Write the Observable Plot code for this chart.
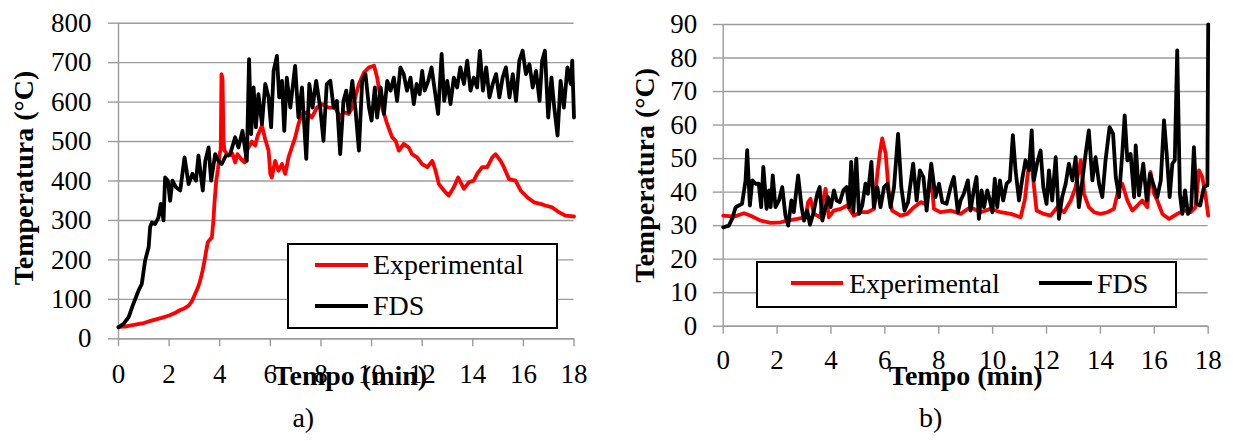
<!DOCTYPE html>
<html>
<head>
<meta charset="utf-8">
<script src="https://cdn.jsdelivr.net/npm/d3@7"></script>
<script src="https://cdn.jsdelivr.net/npm/@observablehq/plot@0.6"></script>
<style>
  html, body { margin: 0; padding: 0; background: #fff; }
  #root { position: relative; width: 1233px; height: 441px; overflow: hidden; font-family: "Liberation Serif", "Times New Roman", serif; }
  .panel { position: absolute; top: 0; }
  .legend { position: absolute; left: 0; top: 0; }
</style>
</head>
<body>
<div id="root"></div>
<script>
// ---------- data (time in min, temperature in °C) ----------
const xTicks = [0, 2, 4, 6, 8, 10, 12, 14, 16, 18];
const yTicksA = [0, 100, 200, 300, 400, 500, 600, 700, 800];
const yTicksB = [0, 10, 20, 30, 40, 50, 60, 70, 80, 90];
const seriesNames = ["Experimental", "FDS"];
const panelLabels = ["a)", "b)"];

const aExperimental = [[0,30],[0.26,31],[0.6,35],[1.0,40],[1.3,46],[1.7,53],[2.0,59],[2.25,66],[2.44,73],[2.6,77],[2.77,84],[2.9,95],[3.03,114],[3.15,132],[3.23,148],[3.32,172],[3.4,198],[3.47,225],[3.53,245],[3.62,252],[3.69,257],[3.75,300],[3.79,342],[3.86,400],[3.93,430],[4.0,470],[4.04,480],[4.07,671],[4.11,660],[4.15,500],[4.19,477],[4.35,464],[4.5,470],[4.61,447],[4.7,468],[4.85,455],[4.98,447],[5.1,480],[5.27,500],[5.4,490],[5.5,515],[5.67,540],[5.8,505],[5.93,477],[6.0,418],[6.06,409],[6.19,451],[6.32,426],[6.46,443],[6.59,418],[6.72,460],[6.85,485],[6.98,510],[7.11,544],[7.25,570],[7.44,574],[7.64,561],[7.84,586],[8.04,595],[8.3,586],[8.56,586],[8.76,561],[8.9,575],[9.1,570],[9.24,586],[9.5,646],[9.7,675],[9.9,688],[10.1,692],[10.22,662],[10.42,586],[10.62,544],[10.81,511],[10.95,502],[11.08,477],[11.27,494],[11.47,485],[11.6,468],[11.8,460],[12.0,443],[12.2,435],[12.4,451],[12.53,426],[12.66,392],[12.86,376],[13.05,363],[13.25,384],[13.42,409],[13.65,380],[13.85,397],[14.04,401],[14.17,418],[14.37,435],[14.57,435],[14.77,460],[14.9,468],[15.1,451],[15.23,435],[15.43,405],[15.69,401],[15.89,376],[16.15,359],[16.42,346],[16.68,342],[16.87,338],[17.14,333],[17.4,321],[17.67,312],[18.0,310]];

const aFDS = [[0,29],[0.2,38],[0.4,55],[0.59,89],[0.79,122],[0.92,139],[1.05,198],[1.19,232],[1.25,283],[1.32,295],[1.45,291],[1.58,308],[1.67,342],[1.78,300],[1.84,409],[1.95,401],[2.04,350],[2.13,401],[2.27,384],[2.44,376],[2.61,460],[2.77,392],[2.92,418],[3.06,401],[3.16,464],[3.33,376],[3.43,451],[3.56,485],[3.66,401],[3.82,468],[3.95,451],[4.08,443],[4.24,464],[4.41,468],[4.61,511],[4.74,485],[4.9,527],[5.07,451],[5.16,709],[5.24,519],[5.34,637],[5.43,536],[5.53,620],[5.67,544],[5.8,646],[5.93,612],[6.03,536],[6.13,679],[6.26,717],[6.35,612],[6.46,654],[6.55,527],[6.65,662],[6.79,586],[6.98,692],[7.11,561],[7.25,637],[7.42,456],[7.54,646],[7.67,586],[7.81,654],[7.97,586],[8.1,502],[8.23,646],[8.37,654],[8.5,586],[8.63,603],[8.76,468],[8.89,603],[9.0,629],[9.1,574],[9.24,654],[9.37,578],[9.5,477],[9.63,654],[9.76,671],[9.9,586],[10.0,553],[10.13,637],[10.22,561],[10.36,637],[10.49,570],[10.62,654],[10.75,629],[10.88,662],[11.01,603],[11.14,688],[11.27,671],[11.4,629],[11.54,662],[11.67,595],[11.78,646],[11.9,620],[12.0,679],[12.1,629],[12.24,654],[12.37,688],[12.5,629],[12.63,570],[12.77,722],[12.87,603],[12.99,654],[13.12,595],[13.25,662],[13.38,637],[13.51,688],[13.65,646],[13.78,705],[13.91,629],[14.04,662],[14.17,637],[14.28,730],[14.4,629],[14.53,688],[14.66,612],[14.79,646],[14.92,671],[15.05,612],[15.18,662],[15.31,688],[15.45,612],[15.58,671],[15.71,603],[15.84,705],[15.97,730],[16.1,671],[16.24,696],[16.37,637],[16.5,679],[16.64,603],[16.74,705],[16.85,730],[16.98,561],[17.11,662],[17.22,586],[17.35,515],[17.47,654],[17.6,586],[17.74,688],[17.87,646],[17.93,705],[18.0,561]];

const bExperimental = [[0,33],[0.4,32.7],[0.77,33.7],[1.0,33],[1.39,31.5],[1.76,30.8],[2.13,31],[2.38,31.5],[2.75,32],[3.06,32.5],[3.15,37],[3.24,38],[3.37,33.5],[3.6,32.5],[3.72,38],[3.8,41],[3.92,32.5],[4.1,34.5],[4.36,35],[4.6,36],[4.85,33],[5.1,34],[5.35,34],[5.6,35],[5.72,45.5],[5.82,52],[5.9,56],[6.03,51.5],[6.15,39.5],[6.27,34.5],[6.58,33],[6.83,33.5],[7.08,35.5],[7.33,37],[7.51,36.5],[7.62,40],[7.7,46.5],[7.82,35],[8.07,34],[8.44,34.5],[8.81,33.5],[9.18,35.5],[9.55,34],[9.92,35],[10.3,34],[10.67,33.5],[11.04,32.5],[11.2,38],[11.29,44.5],[11.41,51.5],[11.51,43.5],[11.63,34.5],[11.9,33.5],[12.15,33],[12.4,35.5],[12.65,34],[12.9,37.5],[13.08,41.5],[13.27,49.5],[13.39,39.5],[13.57,35.5],[13.76,34],[14.0,33.5],[14.26,34],[14.5,35],[14.69,41.5],[14.81,42.5],[15.0,37.5],[15.18,34.5],[15.37,36],[15.55,37.5],[15.74,35.5],[15.86,46],[15.99,39.5],[16.11,37.5],[16.3,33.5],[16.55,32],[16.85,33.5],[17.1,34.5],[17.35,34],[17.53,35.5],[17.66,46.5],[17.78,44.5],[17.91,38.5],[18.0,33]];

const bFDS = [[0,29.5],[0.21,30],[0.33,32],[0.46,35.5],[0.58,36],[0.7,36.5],[0.83,43.5],[0.89,52.5],[0.99,36],[1.08,43.5],[1.2,42.5],[1.32,42.5],[1.41,35.5],[1.49,47.5],[1.61,35],[1.7,40.5],[1.76,35.5],[1.84,45],[1.94,35.5],[2.07,37.5],[2.19,41.5],[2.31,33],[2.41,30],[2.53,37.5],[2.62,34],[2.78,45],[2.91,35.5],[3.0,31.5],[3.12,34.5],[3.22,30.3],[3.34,33.5],[3.49,39.5],[3.58,41.5],[3.68,31.5],[3.8,35.5],[3.89,38.5],[3.99,35.5],[4.11,40.5],[4.21,37.5],[4.33,37],[4.46,40.5],[4.58,41.5],[4.67,35.5],[4.75,49],[4.83,34],[4.94,50],[5.04,33.5],[5.16,36],[5.28,42.5],[5.37,39.5],[5.5,49],[5.59,35.5],[5.72,41.5],[5.84,35.5],[5.97,41.5],[6.09,42.5],[6.21,35.5],[6.34,41.5],[6.49,57.4],[6.61,41.5],[6.73,34.5],[6.86,37],[7.05,48.5],[7.18,37.5],[7.3,46.5],[7.43,44.5],[7.55,34.5],[7.72,48.5],[7.88,38.5],[8.01,42.5],[8.13,37],[8.29,36.5],[8.44,41.5],[8.56,44.5],[8.71,34],[8.81,37.5],[8.93,39.5],[9.08,43.5],[9.18,34.5],[9.3,40.5],[9.4,44.5],[9.49,32],[9.59,40.5],[9.68,35.5],[9.8,40.5],[9.9,37.5],[9.99,34],[10.08,44],[10.17,35.5],[10.27,43.5],[10.39,37.5],[10.52,42.5],[10.64,43.5],[10.75,57],[10.85,46.5],[10.98,37.5],[11.1,44],[11.22,49.5],[11.35,46.5],[11.45,58.4],[11.53,43.5],[11.66,49],[11.78,52.4],[11.88,41.5],[12.0,36.5],[12.09,46.5],[12.21,37.5],[12.34,50.4],[12.46,32],[12.58,38.5],[12.71,42.5],[12.83,48.5],[12.96,43.5],[13.08,50.4],[13.2,35.5],[13.33,43.5],[13.45,51.4],[13.57,58.4],[13.7,43.5],[13.82,50.4],[13.95,42.5],[14.07,38.5],[14.19,49.5],[14.34,59.4],[14.47,57.4],[14.57,44.5],[14.69,38.5],[14.81,51.4],[14.9,62.9],[15.0,49.5],[15.12,51.4],[15.25,38.5],[15.31,53.9],[15.43,39],[15.59,48.5],[15.72,37.5],[15.84,45.5],[15.96,42.5],[16.11,38.5],[16.24,43.5],[16.36,61.4],[16.46,51.4],[16.57,38.5],[16.67,48.5],[16.76,49.5],[16.85,82.3],[16.95,39.5],[17.04,33.5],[17.14,40.5],[17.25,33.5],[17.37,35.5],[17.47,53.4],[17.57,36.5],[17.7,36],[17.84,41.5],[17.97,42],[18.0,90]];

// ---------- rendering ----------
const FONT = '"Liberation Serif", "Times New Roman", serif';
const GRID = "#9c9c9c";
const root = document.getElementById("root");

function panel(cfg) {
  const p = Plot.plot({
    width: cfg.width, height: 441,
    marginLeft: cfg.ml, marginRight: cfg.mr, marginTop: cfg.mt, marginBottom: cfg.mb,
    style: { fontFamily: FONT, background: "transparent", overflow: "visible", color: "black" },
    x: { domain: [0, 18], axis: null },
    y: { domain: cfg.yDomain, axis: null },
    marks: [
      Plot.gridY(cfg.yTicks, { stroke: GRID, strokeOpacity: 1, strokeWidth: 1.4 }),
      Plot.axisY(cfg.yTicks, { tickSize: 10, tickPadding: cfg.ytp, stroke: GRID, strokeWidth: 1.4, fill: "black", fontSize: 27, label: null }),
      Plot.axisX(xTicks, { tickSize: 8, tickPadding: cfg.xtp, stroke: GRID, strokeWidth: 1.4, fill: "black", fontSize: 27, label: null }),
      Plot.ruleX([0], { stroke: GRID, strokeWidth: 1.4 }),
      Plot.ruleY([0], { stroke: GRID, strokeWidth: 1.4 }),
      Plot.line(cfg.exp, { x: d => d[0], y: d => d[1], stroke: "#ff0000", strokeWidth: 3.8, strokeLinejoin: "round" }),
      Plot.line(cfg.fds, { x: d => d[0], y: d => d[1], stroke: "#000000", strokeWidth: 3.8, strokeLinejoin: "round" }),
      Plot.text(["Temperatura (°C)"], { frameAnchor: "left", textAnchor: "middle", dx: cfg.ylx, dy: cfg.yly, rotate: -90, fontWeight: "bold", fontSize: 28, fill: "black" }),
      Plot.text(["Tempo (min)"], { frameAnchor: "bottom", textAnchor: "middle", dx: cfg.xlx, dy: cfg.xly, fontWeight: "bold", fontSize: 28, fill: "black" }),
      Plot.text([cfg.tag], { frameAnchor: "bottom", textAnchor: "middle", dx: cfg.tagx, dy: cfg.tagy, fontSize: 28, fill: "black" })
    ]
  });
  const d = document.createElement("div");
  d.className = "panel";
  d.style.left = cfg.left + "px";
  d.appendChild(p);
  root.appendChild(d);
}

panel({ left: 0, width: 616, ml: 118, mr: 42.5, mt: 22.7, mb: 102.7,
  yDomain: [0, 800], yTicks: yTicksA, ytp: 17, xtp: 17,
  exp: aExperimental, fds: aFDS,
  ylx: -94, yly: -3, xlx: 4, xly: 45.7, tag: panelLabels[0], tagx: -43, tagy: 87.7 });

panel({ left: 616, width: 617, ml: 106.7, mr: 25.3, mt: 24, mb: 115.3,
  yDomain: [0, 90], yTicks: yTicksB, ytp: 16, xtp: 16,
  exp: bExperimental, fds: bFDS,
  ylx: -77.7, yly: 0, xlx: 0, xly: 58.3, tag: panelLabels[1], tagx: -35, tagy: 100.3 });

// ---------- legends ----------
const leg = d3.select(root).append("svg").attr("class", "legend")
  .attr("width", 1233).attr("height", 441)
  .style("font-family", FONT).style("font-size", "28px");

function legendBox(x, y, w, h) {
  leg.append("rect").attr("x", x).attr("y", y).attr("width", w).attr("height", h)
    .attr("fill", "white").attr("stroke", "black").attr("stroke-width", 2);
}
function legendItem(x1, x2, ly, tx, ty, color, label) {
  leg.append("line").attr("x1", x1).attr("x2", x2).attr("y1", ly).attr("y2", ly)
    .attr("stroke", color).attr("stroke-width", 4);
  leg.append("text").attr("x", tx).attr("y", ty).attr("fill", "black").text(label);
}
legendBox(288, 244, 269, 84);
legendItem(315, 368, 265, 373, 274, "#ff0000", seriesNames[0]);
legendItem(315, 368, 306, 373, 315, "#000000", seriesNames[1]);

legendBox(757, 262, 419, 45);
legendItem(791, 843, 283, 849, 293, "#ff0000", seriesNames[0]);
legendItem(1039, 1092, 283, 1097, 293, "#000000", seriesNames[1]);
</script>
</body>
</html>
